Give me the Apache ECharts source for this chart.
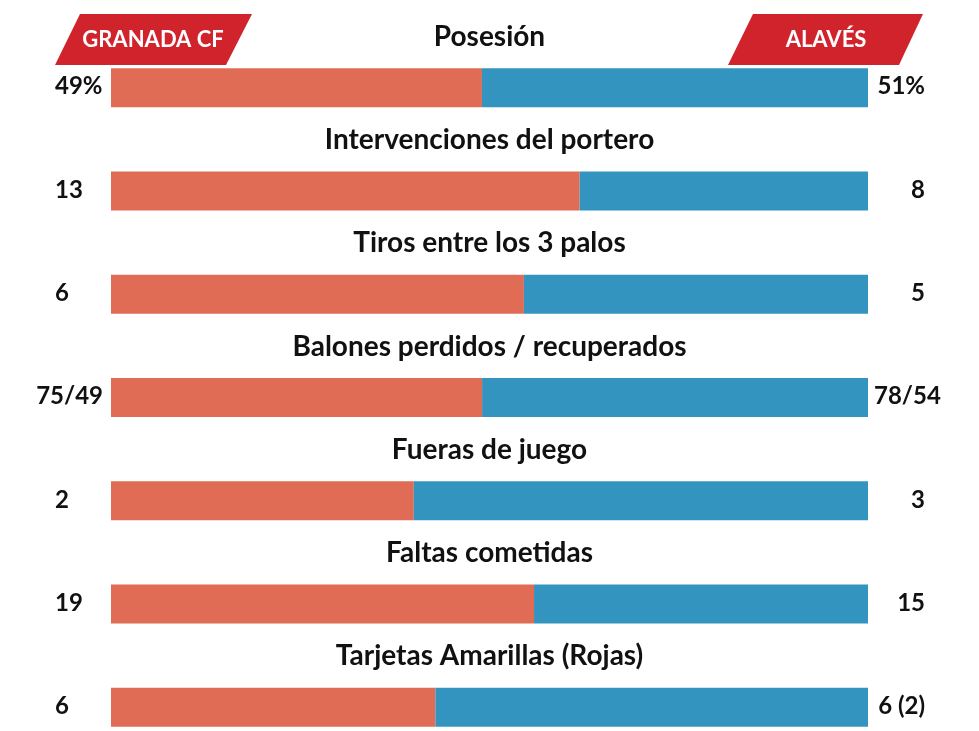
<!DOCTYPE html>
<html>
<head>
<meta charset="utf-8">
<script src="https://cdn.jsdelivr.net/npm/echarts@6/dist/echarts.min.js"></script>
<style>
  html, body { margin: 0; padding: 0; background: #fff; }
  #main { width: 979px; height: 731px; }
</style>
</head>
<body>
<div id="main"></div>
<script>
// stats, top to bottom
var categories = ['Posesión', 'Intervenciones del portero', 'Tiros entre los 3 palos',
    'Balones perdidos / recuperados', 'Fueras de juego', 'Faltas cometidas', 'Tarjetas Amarillas (Rojas)'];
var homeVals = [49, 13, 6, 75, 2, 19, 6];
var awayVals = [51, 8, 5, 78, 3, 15, 8];
var homeLabels = ['49%', '13', '6', '75/49', '2', '19', '6'];
var awayLabels = ['51%', '8', '5', '78/54', '3', '15', '6 (2)'];
var teams = ['GRANADA CF', 'ALAVÉS'];

var RED = '#E06C56', BLUE = '#3494C0', BADGE = '#D0232C';
var FONT = 'Lato, "Noto Sans", sans-serif';
var titleFont = 'bold 28px ' + FONT;
var valFont = 'bold 24px ' + FONT;

var ctx = document.createElement('canvas').getContext('2d');
function textW(t, f) { ctx.font = f; return ctx.measureText(t).width; }

var homeShare = homeVals.map(function (v, i) { return v / (v + awayVals[i]); });
var awayShare = awayVals.map(function (v, i) { return v / (homeVals[i] + v); });

var myChart = echarts.init(document.getElementById('main'));

function renderRow(params, api) {
    var idx = api.value(1);
    var mid = api.coord([0.5, idx]);
    var left = api.coord([0, idx]);
    var right = api.coord([1, idx]);
    var hl = homeLabels[idx], al = awayLabels[idx];
    var hw = textW(hl, valFont), aw = textW(al, valFont);
    var hx = Math.min(left[0] - 56, left[0] - 8 - hw);
    var ax = Math.max(right[0] + 6, right[0] + 57 - aw);
    return {
        type: 'group',
        children: [
            { type: 'text', style: { text: categories[idx], x: mid[0], y: mid[1] - 51,
                align: 'center', verticalAlign: 'middle', font: titleFont, fill: '#111' } },
            { type: 'text', style: { text: hl, x: hx, y: mid[1] - 1,
                align: 'left', verticalAlign: 'middle', font: valFont, fill: '#111' } },
            { type: 'text', style: { text: al, x: ax, y: mid[1] - 1,
                align: 'left', verticalAlign: 'middle', font: valFont, fill: '#111' } }
        ]
    };
}

var option = {
    animation: false,
    grid: { left: 111, right: 111, top: 36, height: 723, containLabel: false, outerBoundsMode: 'none' },
    xAxis: { type: 'value', min: 0, max: 1, show: false },
    yAxis: { type: 'category', data: categories, inverse: true, show: false },
    graphic: [
        { type: 'polygon', shape: { points: [[80, 14], [252, 14], [226, 65], [55, 65]] }, style: { fill: BADGE } },
        { type: 'text', x: 153, y: 40, style: { text: teams[0], fill: '#fff', font: 'bold 22px ' + FONT,
            align: 'center', verticalAlign: 'middle' } },
        { type: 'polygon', shape: { points: [[753, 14], [923, 14], [899, 65], [728, 65]] }, style: { fill: BADGE } },
        { type: 'text', x: 826, y: 40, style: { text: teams[1], fill: '#fff', font: 'bold 22px ' + FONT,
            align: 'center', verticalAlign: 'middle' } }
    ],
    series: [
        { name: teams[0], type: 'bar', stack: 'total', barWidth: 39, data: homeShare,
          itemStyle: { color: RED }, silent: true },
        { name: teams[1], type: 'bar', stack: 'total', barWidth: 39, data: awayShare,
          itemStyle: { color: BLUE }, silent: true },
        { type: 'custom', renderItem: renderRow, clip: false, silent: true,
          encode: { x: 0, y: 1 },
          data: categories.map(function (c, i) { return [0.5, i]; }) }
    ]
};
myChart.setOption(option);
</script>
</body>
</html>
